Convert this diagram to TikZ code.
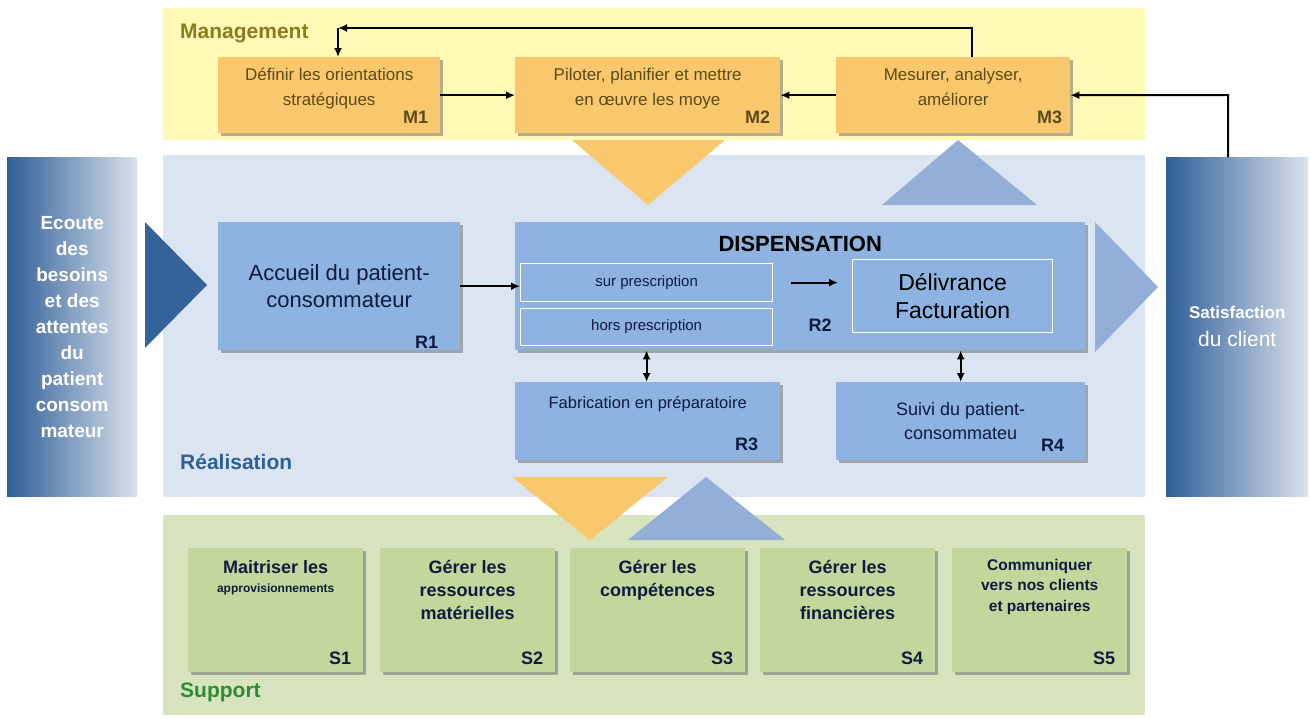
\documentclass[tikz,border=0pt]{standalone}
\usepackage{fontspec}
\setmainfont{Liberation Sans}
\usepackage{xcolor}
\usetikzlibrary{positioning,shadows,arrows.meta}
\definecolor{mgtband}{HTML}{FFF9B5}
\definecolor{mgtbox}{HTML}{F9C86D}
\definecolor{mgttext}{HTML}{5C4A1A}
\definecolor{mgtlabel}{HTML}{8C7B22}
\definecolor{realband}{HTML}{DBE5F1}
\definecolor{realbox}{HTML}{8EB3E0}
\definecolor{realtri}{HTML}{93AFD8}
\definecolor{realdark}{HTML}{34639C}
\definecolor{reallabel}{HTML}{2D5F99}
\definecolor{navy}{HTML}{0E1B40}
\definecolor{supband}{HTML}{D7E4BD}
\definecolor{supbox}{HTML}{C3D69B}
\definecolor{suplabel}{HTML}{2E8B36}
\definecolor{graddark}{HTML}{2F5E99}
\definecolor{gradmid}{HTML}{A5B5CB}
\definecolor{gradlight}{HTML}{DAE2EC}

\begin{document}
\begin{tikzpicture}[>={Latex[length=9pt,width=8pt]}, x=1pt, y=-1pt,
  shadowed/.style={drop shadow={shadow xshift=3pt,shadow yshift=-3pt,fill=black!60,opacity=.5}},
  mbox/.style={shadowed, fill=mgtbox, anchor=north west, inner sep=0pt, minimum height=76},
  rbox/.style={shadowed, fill=realbox, anchor=north west, inner sep=0pt},
  sbox/.style={shadowed, fill=supbox, anchor=north west, inner sep=0pt, minimum width=175, minimum height=124},
  inbox/.style={draw=white, line width=1.2pt, anchor=north west, inner sep=0pt, text=navy},
  sidebox/.style={anchor=north west, inner sep=0pt, minimum height=339, align=center, text=white,
    left color=graddark, middle color=gradmid, right color=gradlight},
  mtext/.style={inner sep=0pt, align=center, text=mgttext, font=\fontsize{17}{25}\selectfont},
  stext/.style={inner sep=0pt, align=center, text=navy, font=\bfseries\fontsize{18}{23}\selectfont},
  tag/.style={inner sep=0pt, anchor=south east, font=\bfseries\fontsize{18}{20}\selectfont},
  zone/.style={inner sep=0pt, anchor=west, font=\bfseries\fontsize{21}{24}\selectfont},
  link/.style={line width=2pt}]
 \useasboundingbox (0,0) rectangle (1311,718);
 %\draw [help lines] (0,0) grid [step=50] (1311,718);
 % three bands
 \fill[mgtband] (163,8) rectangle (1145,140);
 \fill[realband] (163,155) rectangle (1145,497);
 \fill[supband] (163,515) rectangle (1145,715);
 \node[zone, text=mgtlabel] (mgt) at (180,33) {Management};
 \node[zone, text=reallabel] (real) at (180,462) {Réalisation};
 \node[zone, text=suplabel] (sup) at (180,692) {Support};
 % client side boxes
 \node[sidebox, minimum width=130, font=\bfseries\fontsize{19}{26}\selectfont] (ecoute) at (7,157)
   {Ecoute\\des\\besoins\\et des\\attentes\\du\\patient\\consom\\mateur};
 \node[sidebox, minimum width=142, font=\fontsize{21}{28}\selectfont] (sat) at (1166,157)
   {{\bfseries\fontsize{17}{28}\selectfont Satisfaction}\\du client};
 % big arrows
 \fill[realdark] (145,222) -- (207,285) -- (145,348) -- cycle;
 \fill[realtri] (1095,222) -- (1158,287) -- (1095,352) -- cycle;
 \fill[mgtbox] (572,140) -- (725,140) -- (648,205) -- cycle;
 \fill[realtri] (882,205) -- (1037,205) -- (958,140) -- cycle;
 \fill[mgtbox] (512,477) -- (668,477) -- (590,540) -- cycle;
 \fill[realtri] (628,540) -- (785,540) -- (706,477) -- cycle;
 %
 % management
 \node[mbox, minimum width=222] (m1) at (218,57) {};
 \node[mbox, minimum width=265] (m2) at (515,57) {};
 \node[mbox, minimum width=234] (m3) at (836,57) {};
 \node[mtext, below=11pt of m1.north] (m1txt) {Définir les orientations\\stratégiques};
 \node[mtext, below=11pt of m2.north] (m2txt) {Piloter, planifier et mettre\\en œuvre les moye};
 \node[mtext, below=11pt of m3.north] (m3txt) {Mesurer, analyser,\\améliorer};
 \node[tag, text=mgttext] (m1tag) at ([xshift=-12pt,yshift=10pt]m1.south east) {M1};
 \node[tag, text=mgttext] (m2tag) at ([xshift=-10pt,yshift=10pt]m2.south east) {M2};
 \node[tag, text=mgttext] (m3tag) at ([xshift=-8pt,yshift=10pt]m3.south east) {M3};
 \draw[link, ->] (m1.east) -- (m2.west);
 \draw[link, ->] (m3.west) -- (m2.east);
 \coordinate (fbtop) at (972,28);
 \coordinate (fbleft) at (338,28);
 \coordinate (fbsat) at (1228,95);
 \draw[link, ->] (m3.north -| fbtop) -- (fbtop) -- (fbleft);
 \draw[link, ->] (fbleft) -- (fbleft |- m1.north);
 \draw[link, ->] (sat.north -| fbsat) -- (fbsat) -- (m3.east);
 %
 % realisation
 \node[rbox, minimum width=242, minimum height=128, align=center, text=navy,
   font=\fontsize{22}{27}\selectfont] (r1) at (218,222) {Accueil du patient-\\consommateur};
 \node[rbox, minimum width=570, minimum height=128] (r2) at (515,222) {};
 \node[inner sep=0pt, font=\bfseries\fontsize{22}{24}\selectfont, below=14pt of r2.north] (disp) {DISPENSATION};
 \node[inbox, minimum width=252, minimum height=38, font=\fontsize{15}{17}\selectfont] (sur) at (520,263) {sur prescription};
 \node[inbox, minimum width=252, minimum height=37, font=\fontsize{15}{17}\selectfont] (hors) at (520,308) {hors prescription};
 \node[inbox, minimum width=200, minimum height=73, align=center, text=black,
   font=\fontsize{23}{28}\selectfont] (deliv) at (852,259) {Délivrance\\Facturation};
 \node[tag, anchor=center, text=navy] (r2tag) at (820,325) {R2};
 \node[rbox, minimum width=265, minimum height=78] (r3) at (515,382) {};
 \node[inner sep=0pt, text=navy, font=\fontsize{16.5}{20}\selectfont, below=14pt of r3.north] (r3txt) {Fabrication en préparatoire};
 \node[rbox, minimum width=249, minimum height=78, align=center, text=navy,
   font=\fontsize{18}{24}\selectfont] (r4) at (836,382) {Suivi du patient-\\consommateu};
 \node[tag, text=navy] (r1tag) at ([xshift=-22pt,yshift=2pt]r1.south east) {R1};
 \node[tag, text=navy] (r3tag) at ([xshift=-22pt,yshift=10pt]r3.south east) {R3};
 \node[tag, text=navy] (r4tag) at ([xshift=-21pt,yshift=9pt]r4.south east) {R4};
 \draw[link, ->] (r1.east) -- (r1.east -| sur.west);
 \draw[link, ->] ([xshift=18pt]sur.east) -- ([xshift=-14pt]deliv.west |- sur.east);
 \draw[link, <->] (hors.south |- r2.south) -- (hors.south |- r3.north);
 \draw[link, <->] (r4.north |- r2.south) -- (r4.north);
 %
 % support
 \node[sbox] (s1) at (188,548) {};
 \node[sbox] (s2) at (380,548) {};
 \node[sbox] (s3) at (570,548) {};
 \node[sbox] (s4) at (760,548) {};
 \node[sbox] (s5) at (952,548) {};
 \node[stext, below=12pt of s1.north] (s1txt) {Maitriser les\\[-4pt]{\fontsize{12}{14}\selectfont approvisionnements}};
 \node[stext, below=12pt of s2.north] (s2txt) {Gérer les\\ressources\\matérielles};
 \node[stext, below=12pt of s3.north] (s3txt) {Gérer les\\compétences};
 \node[stext, below=12pt of s4.north] (s4txt) {Gérer les\\ressources\\financières};
 \node[stext, font=\bfseries\fontsize{15.5}{20.5}\selectfont, below=11pt of s5.north] (s5txt) {Communiquer\\vers nos clients\\et partenaires};
 \foreach \i in {1,...,5}
   \node[tag, text=navy] (s\i tag) at ([xshift=-12pt,yshift=8pt]s\i.south east) {S\i};
\end{tikzpicture}
\end{document}
